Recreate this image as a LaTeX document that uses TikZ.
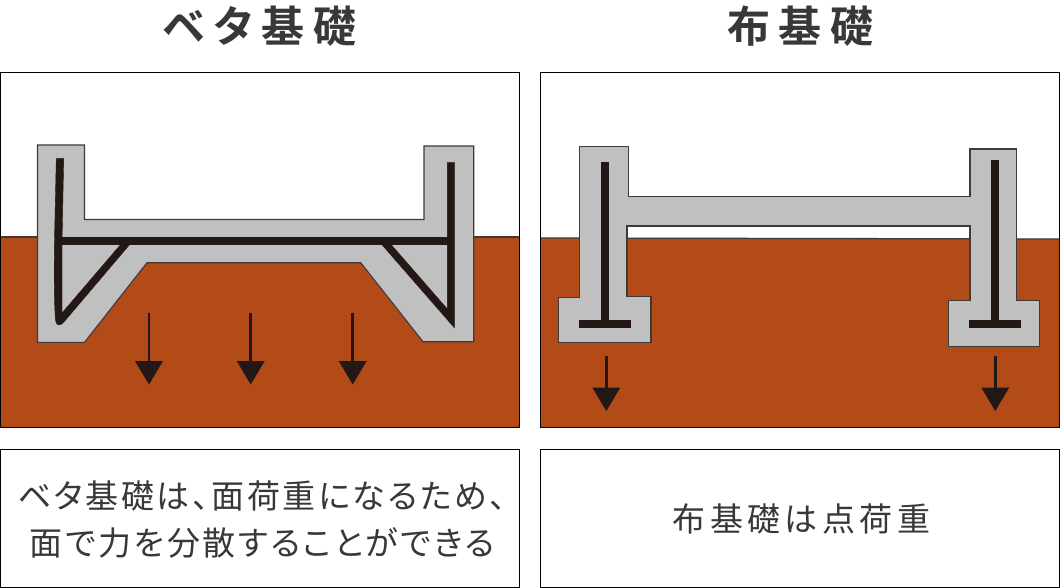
\documentclass[tikz,border=0pt]{standalone}
\usepackage{fontspec}
\newfontfamily\titlefont[LetterSpace=20,RawFeature={+palt}]{Noto Sans CJK JP Bold}
\newfontfamily\bodyfont[LetterSpace=8,RawFeature={+palt}]{Noto Sans CJK JP}
\newfontfamily\bodywide[LetterSpace=13.5,RawFeature={+palt}]{Noto Sans CJK JP}
\definecolor{soil}{HTML}{B24B18}
\definecolor{conc}{HTML}{C0C0C0}
\definecolor{ink}{HTML}{231815}
\definecolor{edge}{HTML}{3E3A39}
\definecolor{lettering}{HTML}{383838}
\tikzset{
  panel/.style={draw=black,line width=1pt,fill=white},
  ground/.style={fill=soil},
  groundline/.style={draw=edge,line width=1.3pt},
  footing/.style={draw=edge,fill=conc,line width=1.1pt,line join=miter},
  rebar/.style={fill=ink,draw=ink,line width=0.4pt},
  loadshaft/.style={draw=ink,line width=2.5pt},
  loadhead/.style={fill=ink,draw=none},
  heading/.style={text=lettering,inner sep=0pt,font=\titlefont\fontsize{43}{46}\selectfont},
  caption/.style={text=lettering,inner sep=0pt,align=center,font=\bodyfont\fontsize{33}{47}\selectfont},
}
\newcommand{\loadarrow}[3]{% x, shaft top, head top
  \draw[loadshaft] (#1,#2) -- (#1,#3+1);
  \fill[loadhead] (#1-14,#3) -- (#1+14,#3) -- (#1,#3+23.5) -- cycle;
}
\begin{document}
\begin{tikzpicture}[x=1pt,y=-1pt]
\useasboundingbox (0,0) rectangle (1060,588);
% panels
\path[panel] (0.5,72.5) rectangle (519.5,427.5);
\path[panel] (540.7,72.5) rectangle (1059.5,427.5);
\path[panel] (0.5,449.5) rectangle (519.5,587.5);
\path[panel] (540.7,449.5) rectangle (1059.5,587.5);
% ground
\fill[ground] (1,237) rectangle (519,427);
\draw[groundline] (1,237) -- (519,237);
\fill[ground] (541.2,238) -- (1059,239) -- (1059,427) -- (541.2,427) -- cycle;
\draw[groundline] (541.2,238) -- (1059,239);
% left footing
\path[footing] (37.5,145) -- (84.5,145) -- (84.5,219.5) -- (424,219.5) -- (424,146) -- (473.7,146) -- (473.7,341.7) -- (423,341.7) -- (360.7,262.7) -- (147,262.7) -- (84.5,342.3) -- (37.5,342.3) -- cycle;
% left footing rebar
\path[rebar] (447.3,162.3) -- (454.3,162.3) -- (454.3,327.7) -- (380.7,243.3) -- (390,243.3) -- (447.3,309) -- cycle;
\path[rebar] (60,236.8) rectangle (450,243.8);
\path[rebar] (63.7,158.3) -- (62,243) -- (62,313) -- (121.7,243.3) -- (130.7,243.3) -- (63.3,322.7) .. controls (60,326) and (56,326) .. (55.5,320) .. controls (54,300) and (54,270) .. (54.5,240) -- (56.3,158.3) -- cycle;
% right footing
\path[footing] (579.3,146.7) -- (628.3,146.7) -- (628.3,196.7) -- (970,196.7) -- (970,149) -- (1016.7,149) -- (1016.7,300.3) -- (1039.3,300.3) -- (1039.3,346.3) -- (948.7,346.3) -- (948.7,300.3) -- (970,300.3) -- (970,226) -- (627,226) -- (627,296.3) -- (651,296.3) -- (651,342.7) -- (558.7,342.7) -- (558.7,297.7) -- (579.3,297.7) -- cycle;
% right footing rebar
\path[rebar] (600.7,162.3) rectangle (607.7,321);
\path[rebar] (579.3,320.3) rectangle (630.3,327.3);
\path[rebar] (990.7,160.3) rectangle (997.7,321);
\path[rebar] (968.7,320.3) rectangle (1020.3,327.3);
% load arrows
\loadarrow{149}{313.3}{361}
\loadarrow{250.7}{313.3}{361}
\loadarrow{352.7}{313.3}{361}
\loadarrow{606.3}{356}{387.5}
\loadarrow{995.3}{356}{387.5}
% text
\node[heading] (t1) at (259.5,26) {ベタ基礎};
\node[heading] (t2) at (800.5,26) {布基礎};
\node[caption] (c1) at (262,520) {ベタ基礎は、面荷重になるため、\\面で力を分散することができる};
\node[caption,font=\bodywide\fontsize{33}{47}\selectfont] (c2) at (801.5,518.5) {布基礎は点荷重};
\end{tikzpicture}
\end{document}
